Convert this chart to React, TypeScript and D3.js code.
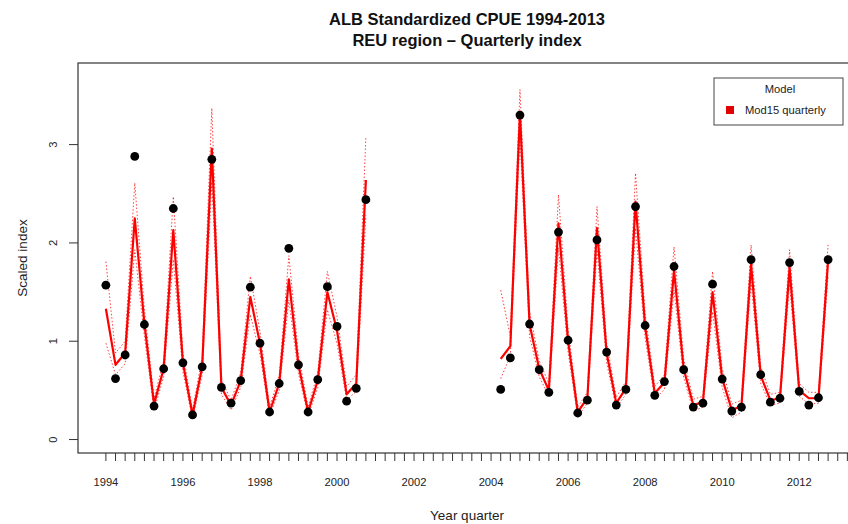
import React from "react";
import * as d3 from "d3";

// ---- Data ----
const startP1 = 1994.0; // first quarter of period 1
const startP2 = 2004.25; // first quarter of period 2

const obsP1 = [1.57, 0.62, 0.86, 2.88, 1.17, 0.34, 0.72, 2.35, 0.78, 0.25, 0.74, 2.85, 0.53, 0.37, 0.6, 1.55, 0.98, 0.28, 0.57, 1.945, 0.76, 0.28, 0.61, 1.555, 1.15, 0.39, 0.52, 2.44];
const fitP1 = [1.33, 0.76, 0.88, 2.25, 1.18, 0.36, 0.72, 2.13, 0.78, 0.25, 0.74, 2.96, 0.53, 0.35, 0.6, 1.45, 0.98, 0.28, 0.57, 1.63, 0.76, 0.28, 0.6, 1.5, 1.11, 0.46, 0.57, 2.64];
const upP1 = [1.81, 0.88, 1.0, 2.61, 1.32, 0.42, 0.8, 2.47, 0.88, 0.3, 0.84, 3.37, 0.6, 0.4, 0.68, 1.66, 1.1, 0.33, 0.65, 1.87, 0.86, 0.33, 0.68, 1.71, 1.25, 0.54, 0.66, 3.08];
const loP1 = [0.98, 0.66, 0.77, 1.93, 1.05, 0.3, 0.64, 1.83, 0.69, 0.21, 0.66, 2.62, 0.46, 0.3, 0.53, 1.27, 0.87, 0.24, 0.5, 1.42, 0.67, 0.24, 0.53, 1.32, 0.98, 0.4, 0.49, 2.28];

const obsP2 = [0.51, 0.83, 3.3, 1.175, 0.71, 0.48, 2.11, 1.01, 0.27, 0.4, 2.03, 0.89, 0.35, 0.51, 2.37, 1.16, 0.45, 0.59, 1.76, 0.71, 0.33, 0.37, 1.58, 0.615, 0.29, 0.33, 1.83, 0.66, 0.38, 0.42, 1.8, 0.49, 0.35, 0.425, 1.83];
const fitP2 = [0.82, 0.95, 3.32, 1.17, 0.72, 0.5, 2.2, 1.0, 0.28, 0.42, 2.15, 0.88, 0.37, 0.52, 2.42, 1.15, 0.47, 0.58, 1.72, 0.72, 0.35, 0.38, 1.5, 0.62, 0.3, 0.34, 1.78, 0.65, 0.4, 0.42, 1.75, 0.5, 0.42, 0.42, 1.82];
const upP2 = [1.52, 1.05, 3.56, 1.3, 0.8, 0.57, 2.49, 1.12, 0.33, 0.48, 2.37, 0.98, 0.43, 0.59, 2.71, 1.28, 0.54, 0.66, 1.96, 0.82, 0.41, 0.44, 1.71, 0.72, 0.36, 0.4, 1.98, 0.74, 0.46, 0.48, 1.93, 0.57, 0.48, 0.48, 1.98];
const loP2 = [0.62, 0.85, 3.08, 1.05, 0.64, 0.44, 1.95, 0.89, 0.23, 0.37, 1.93, 0.78, 0.32, 0.46, 2.15, 1.03, 0.41, 0.51, 1.52, 0.63, 0.29, 0.33, 1.3, 0.53, 0.22, 0.28, 1.6, 0.57, 0.35, 0.37, 1.58, 0.44, 0.36, 0.37, 1.66];

const yTicks = [0, 1, 2, 3];
const xLabelYears = [1994, 1996, 1998, 2000, 2002, 2004, 2006, 2008, 2010, 2012];
const titleLines = ["ALB Standardized CPUE 1994-2013", "REU region \u2013 Quarterly index"];
const legendTitle = "Model";
const legendLabel = "Mod15 quarterly";

const W = 848;
const H = 524;
const FONT = "'Liberation Sans', Arial, Helvetica, sans-serif";

type Pt = { t: number; v: number };

function toPts(start: number, vals: number[]): Pt[] {
  return vals.map((v, i) => ({ t: start + i * 0.25, v }));
}

export default function App() {
  const plotLeft = 78;
  const plotRight = 858;
  const plotTop = 63;
  const plotBottom = 453;

  const x = d3.scaleLinear().domain([1993.25, 2013.5]).range([77, 857]);
  const y = d3.scaleLinear().domain([-0.137, 3.83]).range([plotBottom, plotTop]);

  const line = d3
    .line<Pt>()
    .x((d) => x(d.t))
    .y((d) => y(d.v));

  const periods = [
    { start: startP1, obs: obsP1, fit: fitP1, up: upP1, lo: loP1 },
    { start: startP2, obs: obsP2, fit: fitP2, up: upP2, lo: loP2 },
  ];

  const quarterTicks = d3.range(1994, 2013.5 + 1e-9, 0.25).filter((t) => x(t) <= W);
  const midX = (77 + 857) / 2;

  return (
    <svg
      width={W}
      height={H}
      style={{ position: "absolute", left: 0, top: 0, background: "#fff" }}
      fontFamily={FONT}
    >
      <rect x={0} y={0} width={W} height={H} fill="#fff" />
      {/* Title */}
      <text x={midX} y={25} textAnchor="middle" fontSize={16.5} fontWeight="bold" fill="#111">
        {titleLines[0]}
      </text>
      <text x={midX} y={46} textAnchor="middle" fontSize={16.5} fontWeight="bold" fill="#111">
        {titleLines[1]}
      </text>

      {/* Confidence intervals */}
      {periods.map((p, i) => (
        <g key={"ci" + i}>
          <path d={line(toPts(p.start, p.up)) || ""} fill="none" stroke="#f00" strokeWidth={1} strokeDasharray="1.5 2" opacity={0.75} />
          <path d={line(toPts(p.start, p.lo)) || ""} fill="none" stroke="#f00" strokeWidth={1} strokeDasharray="1.5 2" opacity={0.75} />
        </g>
      ))}

      {/* Fitted line */}
      {periods.map((p, i) => (
        <path key={"fit" + i} d={line(toPts(p.start, p.fit)) || ""} fill="none" stroke="#ff0000" strokeWidth={2.2} strokeLinejoin="round" />
      ))}

      {/* Observed points */}
      {periods.map((p, i) => (
        <g key={"obs" + i}>
          {toPts(p.start, p.obs).map((d, j) => (
            <circle key={j} cx={x(d.t)} cy={y(d.v)} r={4.4} fill="#000" />
          ))}
        </g>
      ))}

      {/* Frame */}
      <rect x={plotLeft} y={plotTop} width={plotRight - plotLeft} height={plotBottom - plotTop} fill="none" stroke="#333" strokeWidth={1.2} />

      {/* Y axis */}
      {yTicks.map((t) => (
        <g key={"yt" + t}>
          <line x1={plotLeft - 9} x2={plotLeft} y1={y(t)} y2={y(t)} stroke="#333" strokeWidth={1} />
          <text
            transform={`translate(${plotLeft - 25},${y(t)}) rotate(-90)`}
            textAnchor="middle"
            dy="0.35em"
            fontSize={11.2}
            fill="#222"
          >
            {t}
          </text>
        </g>
      ))}
      <text transform={`translate(27,${(plotTop + plotBottom) / 2}) rotate(-90)`} textAnchor="middle" fontSize={13.5} fill="#222">
        Scaled index
      </text>

      {/* X axis */}
      {quarterTicks.map((t, i) => (
        <line key={"xt" + i} x1={x(t)} x2={x(t)} y1={plotBottom} y2={plotBottom + 8} stroke="#333" strokeWidth={1} />
      ))}
      {xLabelYears.map((yr) => (
        <text key={"xl" + yr} x={x(yr)} y={486} textAnchor="middle" fontSize={11.2} fill="#222">
          {yr}
        </text>
      ))}
      <text x={midX} y={520} textAnchor="middle" fontSize={13.5} fill="#222">
        Year quarter
      </text>

      {/* Legend */}
      <g>
        <rect x={714} y={78} width={129} height={47} fill="#fff" stroke="#444" strokeWidth={1} />
        <text x={780} y={93} textAnchor="middle" fontSize={11.2} fill="#222">
          {legendTitle}
        </text>
        <rect x={726} y={106} width={8} height={8} fill="#e00000" />
        <text x={745} y={114} fontSize={11.2} fill="#222">
          {legendLabel}
        </text>
      </g>
    </svg>
  );
}
